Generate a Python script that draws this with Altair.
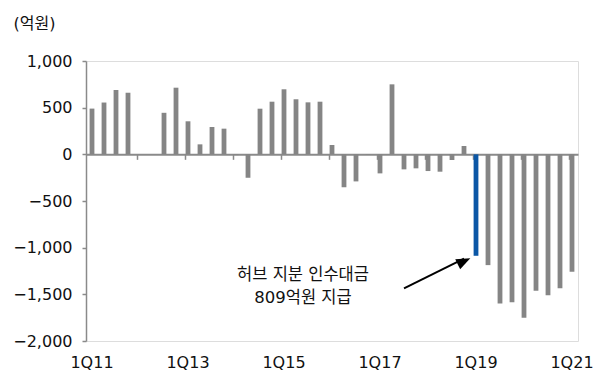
import altair as alt
import pandas as pd

# Quarterly values (억원), 1Q11 through 1Q21; None = no figure for that quarter
quarters = [
    "1Q11", "2Q11", "3Q11", "4Q11",
    "1Q12", "2Q12", "3Q12", "4Q12",
    "1Q13", "2Q13", "3Q13", "4Q13",
    "1Q14", "2Q14", "3Q14", "4Q14",
    "1Q15", "2Q15", "3Q15", "4Q15",
    "1Q16", "2Q16", "3Q16", "4Q16",
    "1Q17", "2Q17", "3Q17", "4Q17",
    "1Q18", "2Q18", "3Q18", "4Q18",
    "1Q19", "2Q19", "3Q19", "4Q19",
    "1Q20", "2Q20", "3Q20", "4Q20",
    "1Q21",
]
values = [
    490, 555, 690, 660,
    None, None, 445, 714,
    354, 107, 293, 275,
    -8, -251, 489, 564,
    697, 590, 557, 564,
    100, -354, -290, -6,
    -204, 750, -161, -150,
    -179, -186, -61, 89,
    -1087, -1187, -1597, -1586,
    -1751, -1462, -1511, -1436,
    -1258,
]
highlight_quarter = "1Q19"

label_quarters = ["1Q11", "1Q13", "1Q15", "1Q17", "1Q19", "1Q21"]
year_start_ticks = ["1Q12", "1Q13", "1Q14", "1Q15", "1Q16", "1Q17",
                    "1Q18", "1Q19", "1Q20", "1Q21"]
y_ticks = [-2000, -1500, -1000, -500, 0, 500, 1000]

note_lines = ["허브 지분 인수대금", "809억원 지급"]
note_quarter = "3Q15"
note_y = [-1294, -1535]

arrow_from = ("3Q17", -1436)
arrow_to = ("4Q18", -1117)
arrow_head_y = -1145

FONT = "DejaVu Sans, Noto Sans CJK KR"
GRAY = "#858585"
AXIS_GRAY = "#8a8a8a"
BLUE = "#0b57a6"
TEXT = "#111111"

df = pd.DataFrame({"q": quarters, "v": values})
df["hl"] = df["q"] == highlight_quarter

W, H = 492, 280
y_dom = [-2000, 1000]
zero_offset = H * (0 - y_dom[0]) / (y_dom[1] - y_dom[0])

x_scale = alt.Scale(domain=quarters, paddingInner=0.6, paddingOuter=0.3)
y_scale = alt.Scale(domain=y_dom, nice=False, zero=False)

y_axis = alt.Axis(
    values=y_ticks, format=",.0f", grid=False,
    domainColor=AXIS_GRAY, domainWidth=1.5,
    tickColor=AXIS_GRAY, tickSize=4, tickWidth=1.5,
    labelFont=FONT, labelFontSize=16, labelColor=TEXT, labelPadding=10,
    title="(억원)", titleAngle=0, titleAlign="left", titleBaseline="middle",
    titleX=-73, titleY=-38, titleFont=FONT, titleFontSize=16,
    titleFontWeight="normal", titleColor=TEXT,
)

# bars, with an x axis sitting on the zero line carrying the yearly ticks
bars = alt.Chart(df).mark_bar(size=4.8).encode(
    x=alt.X("q:N", scale=x_scale, sort=quarters,
            axis=alt.Axis(orient="bottom", offset=-zero_offset, labels=False,
                          values=year_start_ticks, bandPosition=0,
                          domainColor=AXIS_GRAY, domainWidth=2,
                          tickColor=AXIS_GRAY, tickSize=5, tickWidth=1.5,
                          grid=False, title=None)),
    y=alt.Y("v:Q", scale=y_scale, axis=y_axis),
    color=alt.Color("hl:N", scale=alt.Scale(domain=[False, True], range=[GRAY, BLUE]),
                    legend=None),
)

# annotation text; its layer also carries the quarter labels along the bottom edge
note_df = pd.DataFrame({"q": [note_quarter] * 2, "v": note_y, "t": note_lines})
note = alt.Chart(note_df).mark_text(
    font=FONT, fontSize=16.5, color=TEXT, baseline="middle", align="center", dx=-5
).encode(
    x=alt.X("q:N", scale=x_scale, sort=quarters,
            axis=alt.Axis(orient="bottom", offset=0, values=label_quarters,
                          domain=False, ticks=False, labelAngle=0,
                          labelFont=FONT, labelFontSize=16, labelColor=TEXT,
                          labelPadding=13, grid=False, title=None)),
    y=alt.Y("v:Q", scale=y_scale, axis=y_axis),
    text="t:N",
)

arrow_df = pd.DataFrame({
    "q": [arrow_from[0]], "v": [arrow_from[1]],
    "q2": [arrow_to[0]], "v2": [arrow_to[1]],
})
arrow_line = alt.Chart(arrow_df).mark_rule(color="black", strokeWidth=2).encode(
    x=alt.X("q:N", scale=x_scale, sort=quarters, axis=None),
    x2="q2:N",
    y=alt.Y("v:Q", scale=y_scale, axis=y_axis),
    y2="v2:Q",
)

head_df = pd.DataFrame({"q": [arrow_to[0]], "v": [arrow_head_y]})
arrow_head = alt.Chart(head_df).mark_point(
    shape="M0,-1L0.8,1L-0.8,1Z", size=196, filled=True, opacity=1,
    color="black", angle=64, dx=-5.3,
).encode(
    x=alt.X("q:N", scale=x_scale, sort=quarters, axis=None),
    y=alt.Y("v:Q", scale=y_scale, axis=y_axis),
)

chart = alt.layer(bars, note, arrow_line, arrow_head).resolve_axis(
    x="independent"
).properties(
    width=W, height=H,
    autosize=alt.AutoSizeParams(type="none"),
    padding={"left": 86, "top": 61, "right": 15, "bottom": 31},
).configure_view(stroke=None).configure(background="white")

chart.save("out.html", embed_options={"renderer": "svg", "actions": False})
